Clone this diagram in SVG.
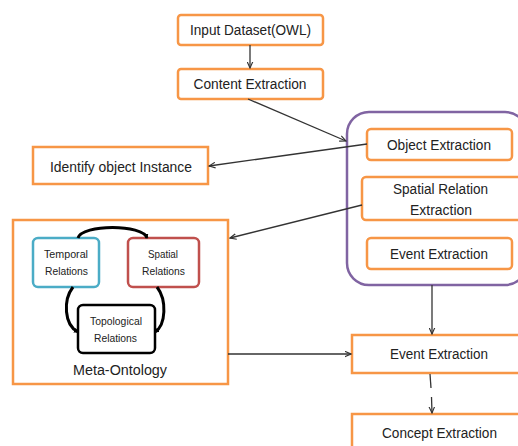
<svg xmlns="http://www.w3.org/2000/svg" width="518" height="446" viewBox="0 0 518 446">
<style>
.ob{fill:#fff;stroke:#F79646;stroke-width:2.5}
.t{font-family:"Liberation Sans",Arial,sans-serif;font-size:14px;fill:#222;text-anchor:middle}
.s{font-family:"Liberation Sans",Arial,sans-serif;font-size:11.5px;fill:#222;text-anchor:middle}
.c{stroke:#333;stroke-width:1.3;fill:none}
.k{stroke:#000;stroke-width:3;fill:none}
</style>
<defs>
<marker id="a" viewBox="0 0 10 10" refX="9" refY="5" markerWidth="7" markerHeight="7" orient="auto-start-reverse" markerUnits="userSpaceOnUse">
<path d="M0,1 L9,5 L0,9" fill="none" stroke="#333" stroke-width="1.6"/>
</marker>
<marker id="b" viewBox="0 0 10 10" refX="8" refY="5" markerWidth="5" markerHeight="5" orient="auto" markerUnits="userSpaceOnUse">
<path d="M0,0 L10,5 L0,10 Z" fill="#000"/>
</marker>
</defs>
<rect width="518" height="446" fill="#fff"/>
<g id="input"><rect class="ob" x="178" y="15" width="145" height="30" rx="3"/><text class="t" x="250.5" y="35" textLength="121" lengthAdjust="spacingAndGlyphs">Input Dataset(OWL)</text></g>
<g id="content"><rect class="ob" x="178" y="69" width="145" height="30" rx="3"/><text class="t" x="250" y="89" textLength="113" lengthAdjust="spacingAndGlyphs">Content Extraction</text></g>
<g id="identify"><rect class="ob" x="33" y="147" width="175" height="37"/><text class="t" x="121" y="172" textLength="142" lengthAdjust="spacingAndGlyphs">Identify object Instance</text></g>
<g id="group"><rect x="347" y="112" width="180" height="173" rx="22" fill="#fff" stroke="#8064A2" stroke-width="2.5"/></g>
<g id="object"><rect class="ob" x="367" y="129" width="145" height="31" rx="4"/><text class="t" x="439" y="150" textLength="104" lengthAdjust="spacingAndGlyphs">Object Extraction</text></g>
<g id="spatialrel"><rect class="ob" x="362" y="177" width="170" height="43" rx="4"/><text class="t" x="440.5" y="194" textLength="95" lengthAdjust="spacingAndGlyphs">Spatial Relation</text><text class="t" x="441" y="215" textLength="62" lengthAdjust="spacingAndGlyphs">Extraction</text></g>
<g id="event1"><rect class="ob" x="367" y="238" width="145" height="31" rx="4"/><text class="t" x="439" y="259" textLength="98" lengthAdjust="spacingAndGlyphs">Event Extraction</text></g>
<g id="meta"><rect class="ob" x="13" y="220" width="215" height="164"/><text class="t" x="120" y="375" textLength="94" lengthAdjust="spacingAndGlyphs">Meta-Ontology</text></g>
<g id="temporal"><rect x="33" y="238" width="66" height="49" rx="5" fill="#fff" stroke="#4BACC6" stroke-width="2.5"/><text class="s" x="66" y="258" textLength="44" lengthAdjust="spacingAndGlyphs">Temporal</text><text class="s" x="66.5" y="275" textLength="43" lengthAdjust="spacingAndGlyphs">Relations</text></g>
<g id="spatial"><rect x="128" y="238" width="71" height="49" rx="5" fill="#fff" stroke="#C0504D" stroke-width="2.5"/><text class="s" x="163" y="258" textLength="30" lengthAdjust="spacingAndGlyphs">Spatial</text><text class="s" x="163.5" y="275" textLength="43" lengthAdjust="spacingAndGlyphs">Relations</text></g>
<g id="topological"><rect x="78" y="305" width="77" height="48" rx="5" fill="#fff" stroke="#000" stroke-width="2.5"/><text class="s" x="116" y="325" textLength="52" lengthAdjust="spacingAndGlyphs">Topological</text><text class="s" x="115.5" y="342" textLength="43" lengthAdjust="spacingAndGlyphs">Relations</text></g>
<g id="event2"><rect class="ob" x="352" y="335" width="180" height="38"/><text class="t" x="439" y="359" textLength="98" lengthAdjust="spacingAndGlyphs">Event Extraction</text></g>
<g id="concept"><rect class="ob" x="352" y="414" width="180" height="45"/><text class="t" x="439.5" y="438" textLength="115" lengthAdjust="spacingAndGlyphs">Concept Extraction</text></g>
<g id="connectors">
<line class="c" x1="250" y1="45" x2="250" y2="68" marker-end="url(#a)"/>
<line class="c" x1="248" y1="99" x2="346" y2="141" marker-end="url(#a)"/>
<line class="c" x1="367" y1="144" x2="209" y2="166" marker-end="url(#a)"/>
<line class="c" x1="362" y1="205" x2="230" y2="238" marker-end="url(#a)"/>
<line class="c" x1="228" y1="354" x2="351" y2="354" marker-end="url(#a)" stroke-width="1.6"/>
<line class="c" x1="432" y1="285" x2="432" y2="334" marker-end="url(#a)" stroke-width="1.6"/>
<line class="c" x1="430" y1="374" x2="431" y2="388"/>
<line class="c" x1="431.5" y1="397" x2="432" y2="413" marker-end="url(#a)"/>
<path class="k" d="M78,238 C82,224 143,224 147,238" marker-end="url(#b)"/>
<path class="k" d="M73,287 C63,300 64,325 78,332" marker-end="url(#b)"/>
<path class="k" d="M157,287 C167,300 166,325 155,332" marker-end="url(#b)"/>
</g>
</svg>
